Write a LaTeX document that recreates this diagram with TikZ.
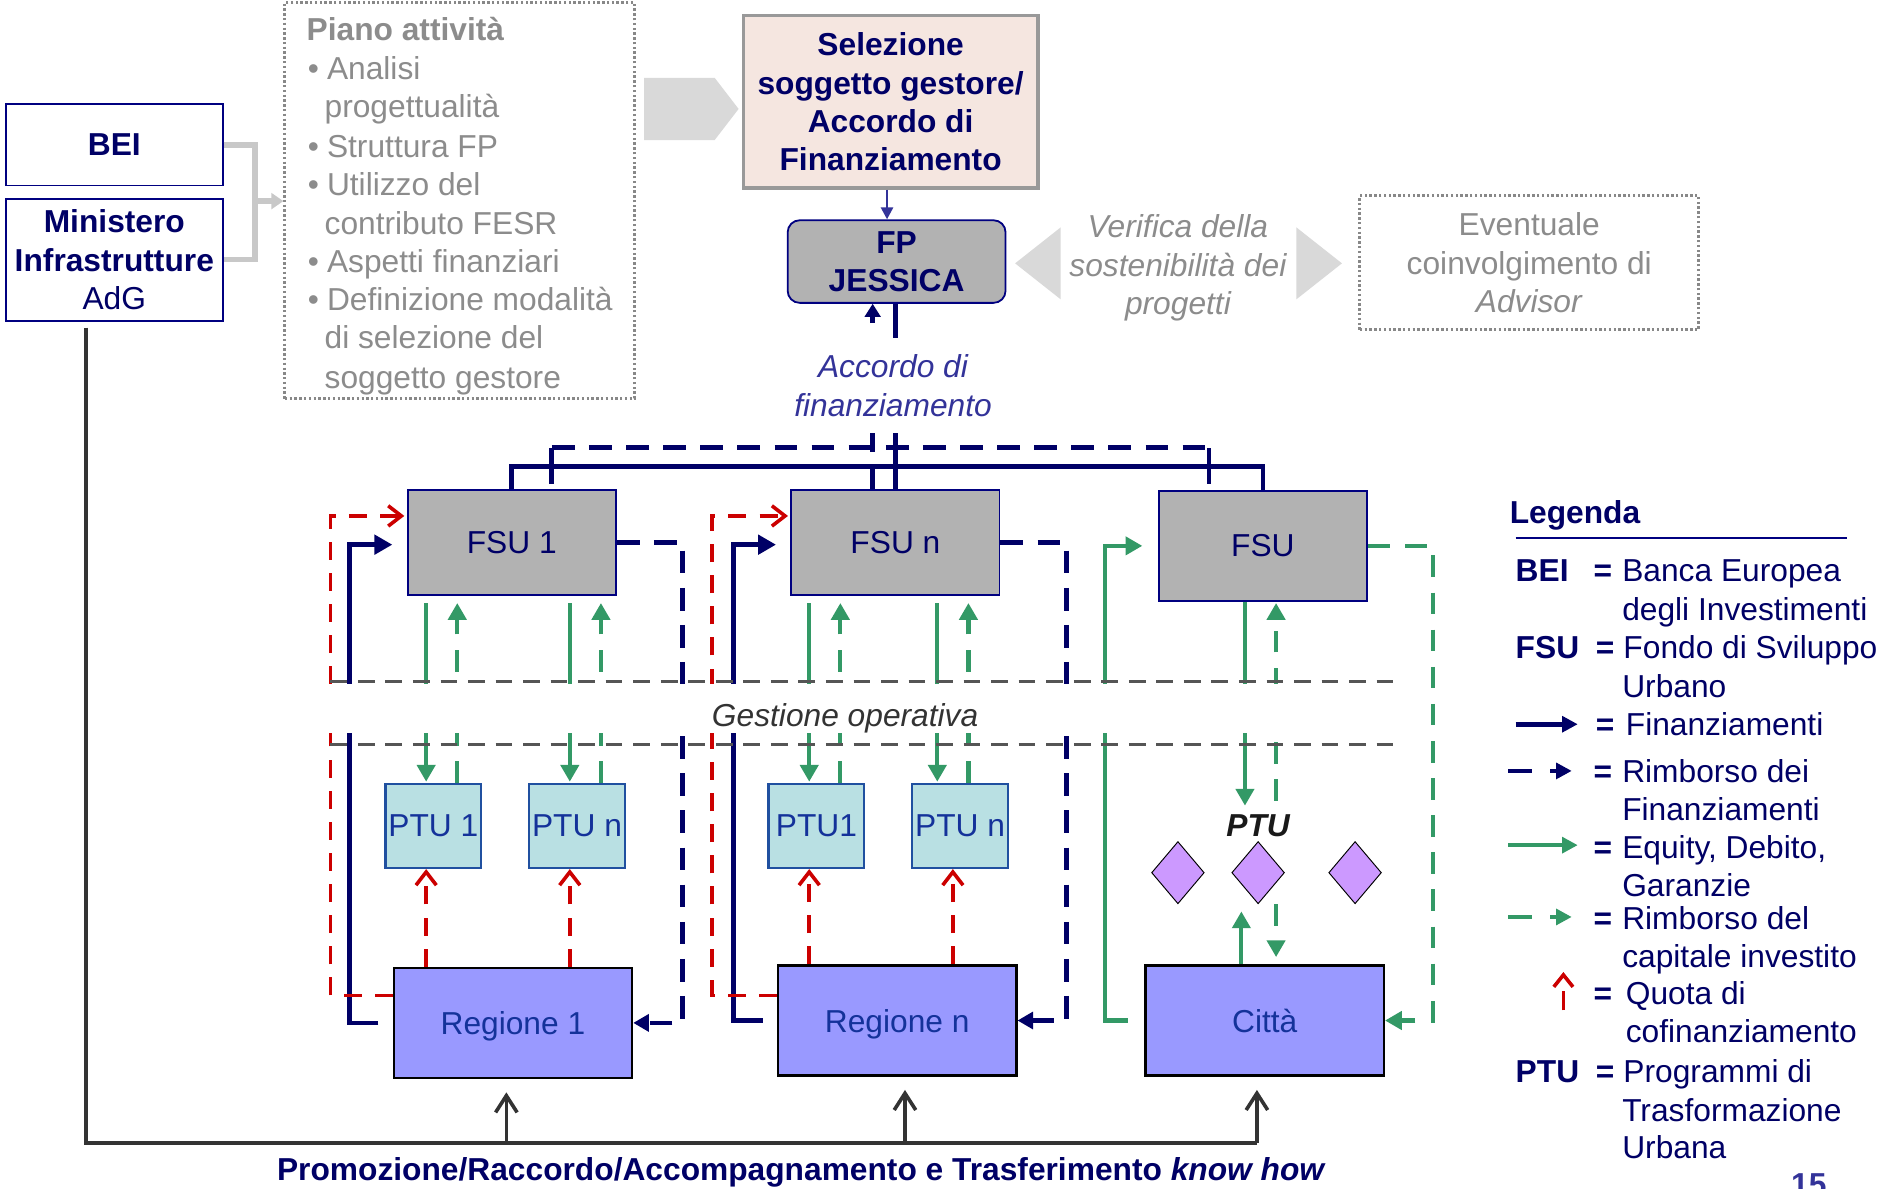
\documentclass[tikz,border=0pt]{standalone}
\usepackage{fontspec}
\setmainfont{Liberation Sans}
\usetikzlibrary{arrows.meta,shapes.geometric,calc}
\definecolor{nv}{HTML}{000066}
\definecolor{nvb}{HTML}{000080}
\definecolor{tb}{HTML}{14329A}
\definecolor{grn}{HTML}{339966}
\definecolor{redone}{HTML}{CC0000}
\definecolor{gtx}{HTML}{8C8C8C}
\definecolor{accb}{HTML}{333399}
\definecolor{fsug}{HTML}{B2B2B2}
\definecolor{ptuf}{HTML}{B9E0E3}
\definecolor{ptub}{HTML}{2050A0}
\definecolor{regf}{HTML}{9999FF}
\definecolor{diaf}{HTML}{CC99FF}
\definecolor{selfill}{HTML}{F5E6E0}
\definecolor{selb}{HTML}{999999}
\definecolor{dotg}{HTML}{888888}
\definecolor{chevc}{HTML}{D9D9D9}
\definecolor{gcon}{HTML}{C8C8C8}
\definecolor{gdark}{HTML}{333333}
\definecolor{glinec}{HTML}{555555}
\newcommand\myfs{\fontsize{26.5}{32}\selectfont}
\tikzset{
  every node/.style={font=\myfs, inner sep=0pt, text depth=0pt},
  bluebox/.style={draw=nvb, line width=1.5pt, fill=white, text=nv},
  dotbox/.style={draw=dotg, line width=2.5pt, dash pattern=on 2pt off 2pt},
  fsubox/.style={draw=nvb, line width=1.5pt, fill=fsug, text=nv, minimum width=174pt, minimum height=88pt},
  ptubox/.style={draw=ptub, line width=2pt, fill=ptuf, text=tb, minimum width=80pt, minimum height=70pt},
  regbox/.style={draw=black, line width=2pt, fill=regf, text=tb, minimum width=199pt, minimum height=92pt},
  dia/.style={diamond, draw=black, line width=0.8pt, fill=diaf, minimum width=44pt, minimum height=52pt},
  ptxt/.style={anchor=base west, text=gtx},
  lgt/.style={anchor=base west, text=nv},
  nvline/.style={draw=nv, line width=4pt},
  nvdash/.style={nvline, dash pattern=on 19pt off 12pt},
  grline/.style={draw=grn, line width=3.5pt},
  grdash/.style={grline, dash pattern=on 18pt off 13pt},
  rdline/.style={draw=redone, line width=3pt, dash pattern=on 15pt off 11pt},
  gline/.style={draw=glinec, line width=2.5pt, dash pattern=on 14pt off 9pt},
  bkline/.style={draw=gdark, line width=3pt},
  tipnv/.style={-{Triangle[length=15pt,width=16pt]}},
  tipnvs/.style={-{Triangle[length=13pt,width=14pt]}},
  tipgr/.style={-{Triangle[length=14pt,width=15pt]}},
  tiprd/.style={-{Straight Barb[length=11pt,width=17pt]}},
  tipbk/.style={-{Straight Barb[length=14pt,width=18pt]}},
}
\begin{document}
\begin{tikzpicture}[x=1pt,y=-1pt]
\useasboundingbox (0,0) rectangle (1568,993);
\fill[white] (0,0) rectangle (1568,993);

% ---------- top left ----------
\node[bluebox, minimum width=181pt, minimum height=68pt, font=\myfs\bfseries] (bei) at (95.5,121) {BEI};
\node[bluebox, minimum width=181pt, minimum height=102pt, align=center] (min) at (95.5,217) {{\bfseries Ministero}\\{\bfseries Infrastrutture}\\AdG};
\node[dotbox, minimum width=292pt, minimum height=331pt] (piano) at (384,167.5) {};
\node[ptxt, font=\myfs\bfseries] (pt0) at (256,33.5) {Piano attività};
\node[ptxt] (pt1) at (257,66.5) {\makebox[16pt][l]{•}Analisi};
\node[ptxt] (pt2) at (271,98.5) {progettualità};
\node[ptxt] (pt3) at (257,131.5) {\makebox[16pt][l]{•}Struttura FP};
\node[ptxt] (pt4) at (257,163.5) {\makebox[16pt][l]{•}Utilizzo del};
\node[ptxt] (pt5) at (271,195.5) {contributo FESR};
\node[ptxt] (pt6) at (257,227.5) {\makebox[16pt][l]{•}Aspetti finanziari};
\node[ptxt] (pt7) at (257,259.5) {\makebox[16pt][l]{•}Definizione modalità};
\node[ptxt] (pt8) at (271,291.5) {di selezione del};
\node[ptxt] (pt9) at (271,324.5) {soggetto gestore};

\coordinate (brk) at (213,168);
\draw[gcon, line width=4.5pt] (bei.east) -| (brk) |- (min.east);
\draw[gcon, line width=4.5pt, -{Triangle[length=10pt,width=13pt]}] (brk) -- (brk -| piano.west);

\fill[chevc] (538,65) -- (597,65) -- (617,91) -- (597,117) -- (538,117) -- cycle;

% ---------- top centre ----------
\node[draw=selb, line width=3pt, fill=selfill, text=nv, font=\myfs\bfseries, align=center, minimum width=246pt, minimum height=144pt] (sel) at (744,85) {Selezione\\soggetto gestore/\\Accordo di\\Finanziamento};
\node[draw=nvb, line width=1.5pt, fill=fsug, rounded corners=10pt, text=nv, font=\myfs\bfseries, align=center, minimum width=182pt, minimum height=69pt] (fp) at (749,218.5) {FP\\JESSICA};
\draw[accb, line width=2.2pt, -{Triangle[length=10pt,width=10pt]}] ($(sel.south)+(-3,0)$) -- ($(sel.south |- fp.north)+(-3,0)$);

\fill[chevc] (886,190) -- (848,220) -- (886,250) -- cycle;
\fill[chevc] (1083,190) -- (1121,220) -- (1083,250) -- cycle;
\node[text=gtx, font=\myfs\itshape, align=center] (ver) at (984,221) {Verifica della\\sostenibilità dei\\progetti};
\node[dotbox, minimum width=283pt, minimum height=112pt, text=gtx, align=center] (evt) at (1277.5,219.5) {Eventuale\\coinvolgimento di\\\textit{Advisor}};

% ---------- FSU row ----------
\node[fsubox] (f1) at (427.5,453) {FSU 1};
\node[fsubox] (fn) at (748,453) {FSU n};
\node[fsubox, minimum height=92pt] (fc) at (1055,456) {FSU};

% ---------- PTU row ----------
\node[ptubox] (p1) at (362,690) {PTU 1};
\node[ptubox] (p2) at (482,690) {PTU n};
\node[ptubox] (p3) at (682,690) {PTU1};
\node[ptubox] (p4) at (802,690) {PTU n};
\node[font=\myfs\bfseries\itshape, text=black!90] (ptul) at (1051,690) {PTU};
\node[dia] (d1) at (984,729) {};
\node[dia] (d2) at (1051,729) {};
\node[dia] (d3) at (1132,729) {};

% ---------- Regione row ----------
\node[regbox] (r1) at (428.5,854.5) {Regione 1};
\node[regbox] (rn) at (749.5,852.5) {Regione n};
\node[regbox] (ct) at (1056.5,852.5) {Città};

% ---------- FP <-> FSU buses ----------
\coordinate (busS) at (0,390);
\coordinate (busD) at (0,374);
\draw[nvline] (fp.south -| fn.north) -- (fn.north);
\coordinate (a1) at (729,362);
\coordinate (a2) at (729,270);
\draw[nvdash] ($(fn.north)+(-19,0)$) -- (a1);
\draw[nvline, -{Triangle[length=11pt,width=13pt]}] (a2) -- (a2 |- fp.south);
\draw[nvline] (f1.north) -- (f1.north |- busS) -- (fc.north |- busS) -- (fc.north);
\coordinate (dL) at ($(f1.north)+(33.5,-4)$);
\coordinate (dR) at ($(fc.north)+(-45,-5)$);
\draw[nvline] (dL) -- (dL |- busD);
\draw[nvline] (dR) -- (dR |- busD);
\draw[nvdash] (dL |- busD) -- (dR |- busD);
\node[fill=white, text=accb, font=\myfs\itshape, align=center, minimum height=80pt, minimum width=180pt] (acc) at (746,322) {Accordo di\\finanziamento};

% ---------- group 1 ----------
\draw[nvline,tipnv] ($(r1.west)+(-12,0)$) -- ($(r1.west)+(-36,0)$) |- ($(f1.west)+(-12,2)$);
\draw[rdline,tiprd] ($(r1.west)+(0,-23)$) -- ($(r1.west)+(-52,-23)$) |- ($(f1.west)+(-2,-22)$);
\draw[nvdash,tipnvs] (f1.east) -- ++(55,0) |- (r1.east);
\draw[grline,tipgr,shorten <=6pt] ($(p1.north |- f1.south)+(-6,0)$) -- ($(p1.north)+(-6,-1)$);
\draw[grdash,tipgr,shorten >=6pt] ($(p1.north)+(20,0)$) -- ($(p1.north |- f1.south)+(20,0)$);
\draw[grline,tipgr,shorten <=6pt] ($(p2.north |- f1.south)+(-6,0)$) -- ($(p2.north)+(-6,-1)$);
\draw[grdash,tipgr,shorten >=6pt] ($(p2.north)+(20,0)$) -- ($(p2.north |- f1.south)+(20,0)$);
\draw[rdline,tiprd] ($(p1.south |- r1.north)+(-6,0)$) -- ($(p1.south)+(-6,0)$);
\draw[rdline,tiprd] ($(p2.south |- r1.north)+(-6,0)$) -- ($(p2.south)+(-6,0)$);

% ---------- group 2 ----------
\draw[nvline,tipnv] ($(rn.west)+(-12,0)$) -- ($(rn.west)+(-36,0)$) |- ($(fn.west)+(-12,2)$);
\draw[rdline,tiprd] ($(rn.west)+(0,-21)$) -- ($(rn.west)+(-54,-21)$) |- ($(fn.west)+(-2,-22)$);
\draw[nvdash,tipnvs] (fn.east) -- ++(55,0) |- (rn.east);
\draw[grline,tipgr,shorten <=6pt] ($(p3.north |- fn.south)+(-6,0)$) -- ($(p3.north)+(-6,-1)$);
\draw[grdash,tipgr,shorten >=6pt] ($(p3.north)+(20,0)$) -- ($(p3.north |- fn.south)+(20,0)$);
\draw[grline,tipgr,shorten <=6pt] ($(p4.north |- fn.south)+(-19,0)$) -- ($(p4.north)+(-19,-1)$);
\draw[grdash,tipgr,shorten >=6pt] ($(p4.north)+(7,0)$) -- ($(p4.north |- fn.south)+(7,0)$);
\draw[rdline,tiprd] ($(p3.south |- rn.north)+(-6,0)$) -- ($(p3.south)+(-6,0)$);
\draw[rdline,tiprd] ($(p4.south |- rn.north)+(-6,0)$) -- ($(p4.south)+(-6,0)$);

% ---------- group 3 ----------
\draw[grline,tipgr] ($(ct.west)+(-14,0)$) -- ($(ct.west)+(-33,0)$) |- ($(fc.west)+(-13,0)$);
\draw[grdash,tipgr] (fc.east) -- ++(54,0) |- (ct.east);
\coordinate (ga) at (1040,673);
\coordinate (gb) at (1066,669);
\coordinate (gc) at ($(d2.south)+(-14,6)$);
\coordinate (gd) at ($(d2.south)+(15,0)$);
\draw[grline,tipgr] (ga |- fc.south) -- (ga);
\draw[grdash,tipgr,shorten >=1pt] (gb) -- (gb |- fc.south);
\draw[grline,tipgr] (gc |- ct.north) -- (gc);
\draw[grdash,tipgr,shorten >=6pt] (gd) -- (gd |- ct.north);

% ---------- Gestione operativa band ----------
\fill[white] (270,571) rectangle (1170,612);
\draw[gline] (276,569) -- (1166,569);
\draw[gline] (276,622) -- (1166,622);
\node[text=gdark, font=\myfs\itshape] (gest) at (706,597) {Gestione operativa};

% ---------- bottom promotion line ----------
\coordinate (m0) at ($(min.south)+(-23.5,5)$);
\coordinate (k1) at (423,955);
\coordinate (k2) at (756,955);
\coordinate (k3) at (1050,955);
\draw[bkline] (m0) |- (k3);
\draw[bkline,tipbk,shorten >=11pt] (k1) -- (k1 |- r1.south);
\draw[bkline,tipbk,shorten >=11pt] (k2) -- (k2 |- rn.south);
\draw[bkline,tipbk,shorten >=11pt] (k3) -- (k3 |- ct.south);
\node[anchor=base, text=nv, font=\myfs\bfseries] (promo) at (669.5,986) {Promozione/Raccordo/Accompagnamento e Trasferimento \textit{know how}};
\node[anchor=base, text=accb, font=\myfs\bfseries] (pg) at (1511,999) {15};

% ---------- legend ----------
\node[lgt, font=\myfs\bfseries] (lg) at (1261,437) {Legenda};
\draw[nvb, line width=1.5pt] (1266,449.5) -- (1543,449.5);
\node[lgt, font=\myfs\bfseries] (l1a) at (1266,485.5) {BEI};
\node[lgt, font=\myfs\bfseries] (l1b) at (1331,485.5) {=};
\node[lgt] (l1c) at (1355,485.5) {Banca Europea};
\node[lgt] (l1d) at (1355,518.5) {degli Investimenti};
\node[lgt, font=\myfs\bfseries] (l2a) at (1266,550.5) {FSU};
\node[lgt, font=\myfs\bfseries] (l2b) at (1333,550.5) {=};
\node[lgt] (l2c) at (1356,550.5) {Fondo di Sviluppo};
\node[lgt] (l2d) at (1355,582.5) {Urbano};
\draw[nvline, -{Triangle[length=13pt,width=13pt]}] (1266,605) -- (1318,605);
\node[lgt, font=\myfs\bfseries] (l3b) at (1333,614.5) {=};
\node[lgt] (l3c) at (1358,614.5) {Finanziamenti};
\draw[nvline, dash pattern=on 20pt off 15pt, -{Triangle[length=13pt,width=13pt]}] (1260,644) -- (1313,644);
\node[lgt, font=\myfs\bfseries] (l4b) at (1331,653.5) {=};
\node[lgt] (l4c) at (1355,653.5) {Rimborso dei};
\node[lgt] (l4d) at (1355,685.5) {Finanziamenti};
\draw[grline, -{Triangle[length=13pt,width=13pt]}] (1260,706) -- (1318,706);
\node[lgt, font=\myfs\bfseries] (l5b) at (1331,717.5) {=};
\node[lgt] (l5c) at (1355,717.5) {Equity, Debito,};
\node[lgt] (l5d) at (1355,748.5) {Garanzie};
\draw[grline, dash pattern=on 20pt off 15pt, -{Triangle[length=13pt,width=13pt]}] (1260,766) -- (1313,766);
\node[lgt, font=\myfs\bfseries] (l6b) at (1331,776.5) {=};
\node[lgt] (l6c) at (1355,776.5) {Rimborso del};
\node[lgt] (l6d) at (1355,808.5) {capitale investito};
\draw[redone, line width=3pt, dash pattern=on 16pt off 20pt, -{Straight Barb[length=10pt,width=16pt]}] (1306,844) -- (1306,812);
\node[lgt, font=\myfs\bfseries] (l7b) at (1331,839.5) {=};
\node[lgt] (l7c) at (1358,839.5) {Quota di};
\node[lgt] (l7d) at (1358,870.5) {cofinanziamento};
\node[lgt, font=\myfs\bfseries] (l8a) at (1266,904.5) {PTU};
\node[lgt, font=\myfs\bfseries] (l8b) at (1333,904.5) {=};
\node[lgt] (l8c) at (1356,904.5) {Programmi di};
\node[lgt] (l8d) at (1355,936.5) {Trasformazione};
\node[lgt] (l8e) at (1355,967.5) {Urbana};
\end{tikzpicture}
\end{document}
